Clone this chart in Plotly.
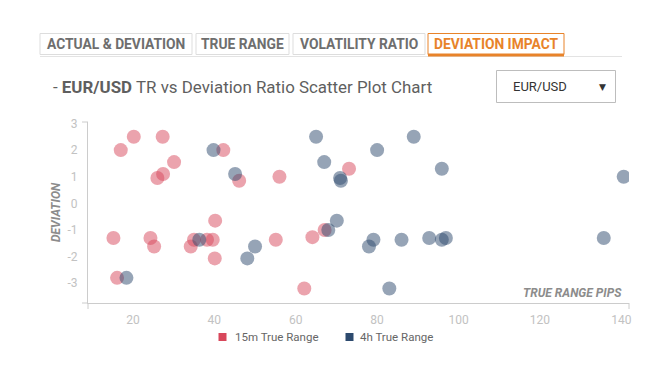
import plotly.graph_objects as go

# ---- data ----
x_ticks = [20, 40, 60, 80, 100, 120, 140]
y_ticks = [-3, -2, -1, 0, 1, 2, 3]

tr15_x = [17.0, 20.2, 27.3, 30.1, 27.4, 26.0, 42.2, 46.1, 56.0, 73.1,
          15.2, 24.3, 25.2, 16.1, 34.2, 35.0, 38.2, 39.6, 40.2, 40.1,
          55.1, 64.1, 67.1, 62.1]
tr15_y = [2.0, 2.5, 2.5, 1.55, 1.1, 0.95, 2.0, 0.85, 1.0, 1.3,
          -1.3, -1.3, -1.62, -2.8, -1.62, -1.37, -1.37, -1.37, -0.65, -2.07,
          -1.37, -1.27, -1.0, -3.2]

tr4h_x = [18.4, 39.8, 45.1, 36.3, 50.0, 48.1, 65.0, 67.0, 68.0, 70.9,
          71.1, 70.1, 80.0, 89.0, 95.9, 140.6, 79.1, 78.0, 86.0, 92.8,
          95.9, 96.9, 135.7, 83.0]
tr4h_y = [-2.8, 2.0, 1.1, -1.37, -1.62, -2.07, 2.5, 1.55, -1.0, 0.95,
          0.85, -0.65, 2.0, 2.5, 1.3, 1.0, -1.37, -1.62, -1.37, -1.3,
          -1.37, -1.3, -1.3, -3.2]

series_names = ["15m True Range", "4h True Range"]
series_colors = ["#d8475b", "#2d4a6e"]

tabs = ["ACTUAL & DEVIATION", "TRUE RANGE", "VOLATILITY RATIO", "DEVIATION IMPACT"]

# ---- layout geometry (window pixels; page body has an 8px margin) ----
OFF = 8
W, H = 660 - OFF, 366 - OFF
L, T = 88 - OFF, 122 - OFF
PR, PB = 629 - OFF, 303 - OFF
R, B = W - PR, H - PB
PW, PH = PR - L, PB - T


def px(x):
    return (x - OFF - L) / PW


def py(y):
    return (PB - (y - OFF)) / PH


FONT = "Roboto"

fig = go.Figure()
fig.add_trace(go.Scatter(x=tr15_x, y=tr15_y, mode="markers", name=series_names[0],
                         marker=dict(size=14, color=series_colors[0], opacity=0.5,
                                     line=dict(width=0)),
                         showlegend=False, hoverinfo="x+y"))
fig.add_trace(go.Scatter(x=tr4h_x, y=tr4h_y, mode="markers", name=series_names[1],
                         marker=dict(size=14, color=series_colors[1], opacity=0.5,
                                     line=dict(width=0)),
                         showlegend=False, hoverinfo="x+y"))

shapes = []
annotations = []

# tabs
tab_boxes = [(40, 192), (196, 289), (293, 425), (428, 564)]
shapes.append(dict(type="line", xref="paper", yref="paper",
                   x0=px(40), x1=px(622), y0=py(56.5), y1=py(56.5),
                   line=dict(color="#e3e3e3", width=1)))
for i, (name, (a, b)) in enumerate(zip(tabs, tab_boxes)):
    active = i == 3
    shapes.append(dict(type="rect", xref="paper", yref="paper",
                       x0=px(a), x1=px(b), y0=py(54.5), y1=py(33.5),
                       line=dict(color="#e8832a" if active else "#dddddd", width=1),
                       fillcolor="white"))
    if active:
        shapes.append(dict(type="line", xref="paper", yref="paper",
                           x0=px(a), x1=px(b), y0=py(55), y1=py(55),
                           line=dict(color="#e8832a", width=3)))
    annotations.append(dict(xref="paper", yref="paper", x=px((a + b) / 2), y=py(44),
                            text="<b>" + name.replace("&", "&amp;") + "</b>",
                            showarrow=False, xanchor="center", yanchor="middle",
                            font=dict(family=FONT, size=13.8,
                                      color="#e8832a" if active else "#6e6e6e")))

# title
annotations.append(dict(xref="paper", yref="paper", x=px(51), y=py(87),
                        text="- <b>EUR/USD</b> TR vs Deviation Ratio Scatter Plot Chart",
                        showarrow=False, xanchor="left", yanchor="middle",
                        font=dict(family=FONT, size=16.9, color="#5f5f5f")))

# dropdown
shapes.append(dict(type="rect", xref="paper", yref="paper",
                   x0=px(496.5), x1=px(615.5), y0=py(102.5), y1=py(70.5),
                   line=dict(color="#bdbdbd", width=1), fillcolor="white"))
annotations.append(dict(xref="paper", yref="paper", x=px(540), y=py(87),
                        text="EUR/USD", showarrow=False, xanchor="center", yanchor="middle",
                        font=dict(family=FONT, size=13, color="#333333")))
annotations.append(dict(xref="paper", yref="paper", x=px(602), y=py(86.5),
                        text="▼", showarrow=False, xanchor="center", yanchor="middle",
                        font=dict(family="DejaVu Sans", size=9, color="#333333")))

# axis titles
annotations.append(dict(xref="paper", yref="paper", x=px(56), y=py(212),
                        text="<b><i>DEVIATION</i></b>", textangle=-90,
                        showarrow=False, xanchor="center", yanchor="middle",
                        font=dict(family=FONT, size=12, color="#8c8c8c")))
annotations.append(dict(xref="paper", yref="paper", x=px(624), y=py(293),
                        text="<b><i>TRUE RANGE PIPS</i></b>",
                        showarrow=False, xanchor="right", yanchor="middle",
                        font=dict(family=FONT, size=12, color="#8c8c8c")))

# axis extras (end ticks)
axc = "#cccccc"
shapes.append(dict(type="line", xref="paper", yref="paper", x0=px(82), x1=px(88),
                   y0=py(303), y1=py(303), line=dict(color=axc, width=1)))
shapes.append(dict(type="line", xref="paper", yref="paper", x0=px(82), x1=px(88),
                   y0=py(122), y1=py(122), line=dict(color=axc, width=1)))
shapes.append(dict(type="line", xref="paper", yref="paper", x0=px(88), x1=px(88),
                   y0=py(303), y1=py(309), line=dict(color=axc, width=1)))
shapes.append(dict(type="line", xref="paper", yref="paper", x0=px(629), x1=px(629),
                   y0=py(303), y1=py(309), line=dict(color=axc, width=1)))

# legend
leg = [(218.5, 233, 0), (345.5, 358, 1)]
for sx, tx, k in leg:
    shapes.append(dict(type="rect", xref="paper", yref="paper",
                       x0=px(sx), x1=px(sx + 8), y0=py(341), y1=py(333),
                       line=dict(width=0), fillcolor=series_colors[k]))
    annotations.append(dict(xref="paper", yref="paper", x=px(tx), y=py(337),
                            text=series_names[k], showarrow=False,
                            xanchor="left", yanchor="middle",
                            font=dict(family=FONT, size=11.5, color="#666666")))

fig.update_layout(
    width=W, height=H,
    margin=dict(l=L, r=R, t=T, b=B, pad=0),
    paper_bgcolor="white", plot_bgcolor="white",
    showlegend=False,
    font=dict(family=FONT),
    shapes=shapes, annotations=annotations,
    xaxis=dict(range=[8.95, 141.9], tickvals=x_ticks, ticktext=[str(v) for v in x_ticks],
               showgrid=False, zeroline=False, showline=True, linecolor=axc, linewidth=1,
               ticks="", tickfont=dict(family=FONT, size=12, color="#c2c2c2"),
               ticklabelstandoff=6, fixedrange=True),
    yaxis=dict(range=[-3.745, 3.056], tickvals=y_ticks, ticktext=[str(v) for v in y_ticks],
               showgrid=False, zeroline=False, showline=True, linecolor=axc, linewidth=1,
               ticks="", tickfont=dict(family=FONT, size=12, color="#c2c2c2"),
               ticklabelstandoff=7, fixedrange=True),
)

fig.write_html("out.html", config={"displayModeBar": False})
